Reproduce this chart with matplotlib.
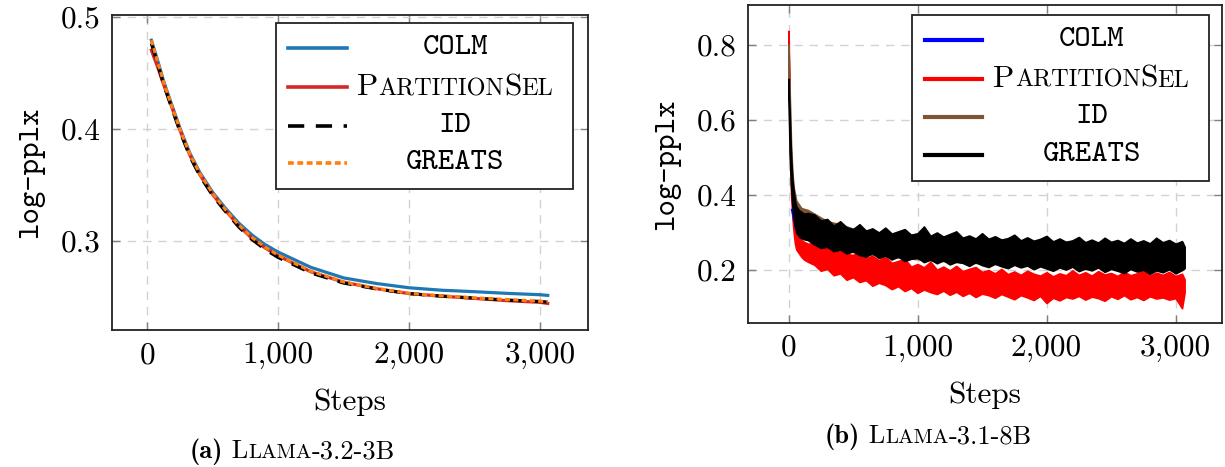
import matplotlib
matplotlib.use("Agg")
import matplotlib.pyplot as plt
from matplotlib.lines import Line2D
from matplotlib.patches import Rectangle
from matplotlib.offsetbox import TextArea, HPacker, AnnotationBbox

plt.rcParams['axes.unicode_minus'] = False

W, H = 1225, 467
FS = 22.5
SC = 17.5  # small caps size

# ---------------- data, panel (a) Llama-3.2-3B
steps_a = [30, 75, 125, 175, 250, 325, 400, 500, 600, 700, 800, 900, 1000,
           1250, 1500, 1750, 2000, 2250, 2500, 2750, 3000, 3060]
colm_a = [0.479, 0.462, 0.442, 0.425, 0.400, 0.378, 0.361, 0.343, 0.3285, 0.3155, 0.3050,
          0.2965, 0.2898, 0.2762, 0.2668, 0.2618, 0.2580, 0.2558, 0.2545, 0.2530, 0.2518, 0.2512]
part_a = [0.470, 0.456, 0.439, 0.423, 0.398, 0.376, 0.359, 0.341, 0.3265, 0.3130, 0.3020,
          0.2935, 0.2865, 0.2722, 0.2630, 0.2572, 0.2528, 0.2505, 0.2485, 0.2465, 0.2450, 0.2440]
id_a = [0.476, 0.459, 0.439, 0.422, 0.397, 0.375, 0.358, 0.340, 0.3255, 0.3120, 0.3010,
        0.2922, 0.2850, 0.2712, 0.2622, 0.2570, 0.2528, 0.2505, 0.2488, 0.2470, 0.2458, 0.2452]
greats_a = [0.479, 0.461, 0.441, 0.424, 0.399, 0.377, 0.360, 0.342, 0.3272, 0.3138, 0.3028,
            0.2942, 0.2870, 0.2727, 0.2632, 0.2575, 0.2530, 0.2508, 0.2490, 0.2475, 0.2460, 0.2455]

# ---------------- data, panel (b) Llama-3.1-8B (noisy curves as low/high envelopes)
steps_b = [0, 10, 20, 30, 40, 50, 60, 80, 100, 120, 150] + list(range(200, 3051, 50)) + [3070]
part_hi = [0.838, 0.62, 0.47, 0.40, 0.36, 0.33, 0.31, 0.29, 0.28, 0.275, 0.27,
           0.272, 0.262, 0.266, 0.252, 0.258, 0.243, 0.240, 0.250, 0.232, 0.238,
           0.226, 0.236, 0.219, 0.224, 0.230, 0.209, 0.216, 0.207, 0.222, 0.201,
           0.209, 0.199, 0.211, 0.197, 0.203, 0.208, 0.195, 0.200, 0.191, 0.203,
           0.189, 0.196, 0.187, 0.198, 0.190, 0.185, 0.194, 0.183, 0.191, 0.186,
           0.199, 0.187, 0.194, 0.185, 0.197, 0.188, 0.192, 0.184, 0.196, 0.186,
           0.191, 0.199, 0.185, 0.193, 0.187, 0.195, 0.184, 0.190,
           0.175]
part_lo = [0.79, 0.55, 0.40, 0.34, 0.30, 0.27, 0.255, 0.245, 0.235, 0.228, 0.222,
           0.214, 0.198, 0.203, 0.186, 0.191, 0.174, 0.181, 0.168, 0.173, 0.158,
           0.166, 0.160, 0.149, 0.157, 0.144, 0.152, 0.139, 0.148, 0.141, 0.136,
           0.145, 0.134, 0.142, 0.131, 0.139, 0.128, 0.137, 0.133, 0.126, 0.136,
           0.129, 0.122, 0.133, 0.127, 0.120, 0.131, 0.112, 0.126, 0.119, 0.128,
           0.124, 0.131, 0.121, 0.129, 0.125, 0.118, 0.130, 0.123, 0.133, 0.122,
           0.128, 0.120, 0.130, 0.124, 0.127, 0.121, 0.125, 0.098,
           0.140]
greats_hi = [0.71, 0.60, 0.50, 0.44, 0.41, 0.385, 0.37, 0.36, 0.355, 0.35, 0.352,
             0.348, 0.332, 0.336, 0.318, 0.330, 0.314, 0.309, 0.322, 0.305, 0.311,
             0.300, 0.313, 0.297, 0.303, 0.309, 0.294, 0.298, 0.316, 0.291, 0.300,
             0.289, 0.296, 0.303, 0.286, 0.292, 0.284, 0.298, 0.283, 0.290, 0.281,
             0.285, 0.294, 0.279, 0.287, 0.278, 0.283, 0.291, 0.276, 0.284, 0.275,
             0.279, 0.288, 0.274, 0.281, 0.273, 0.286, 0.275, 0.280, 0.272, 0.284,
             0.273, 0.279, 0.271, 0.286, 0.274, 0.280, 0.270, 0.277,
             0.262]
greats_lo = [0.66, 0.50, 0.42, 0.37, 0.34, 0.315, 0.30, 0.29, 0.285, 0.282, 0.28,
             0.268, 0.259, 0.262, 0.250, 0.255, 0.244, 0.250, 0.240, 0.236, 0.245,
             0.232, 0.239, 0.228, 0.236, 0.224, 0.230, 0.233, 0.221, 0.228, 0.218,
             0.226, 0.215, 0.222, 0.219, 0.211, 0.221, 0.213, 0.208, 0.217, 0.210,
             0.205, 0.214, 0.207, 0.212, 0.202, 0.210, 0.204, 0.198, 0.207, 0.201,
             0.209, 0.197, 0.204, 0.199, 0.207, 0.195, 0.203, 0.198, 0.192, 0.203,
             0.196, 0.201, 0.190, 0.199, 0.194, 0.202, 0.191, 0.200,
             0.205]
steps_id_b = [0, 10, 20, 30, 40, 60, 100, 150, 200] + list(range(300, 3001, 100)) + [3070]
id_hi = [0.80, 0.66, 0.53, 0.46, 0.42, 0.385, 0.365, 0.36, 0.350,
         0.330, 0.322, 0.310, 0.304, 0.300, 0.296, 0.296, 0.293, 0.290, 0.287,
         0.288, 0.284, 0.283, 0.282, 0.280, 0.278, 0.277, 0.278, 0.276, 0.275,
         0.274, 0.274, 0.273, 0.272, 0.272, 0.271, 0.271, 0.270,
         0.262]
id_lo = [0.70, 0.52, 0.43, 0.38, 0.35, 0.31, 0.295, 0.29, 0.28,
         0.265, 0.255, 0.248, 0.243, 0.239, 0.235, 0.232, 0.229, 0.226, 0.224,
         0.222, 0.220, 0.218, 0.216, 0.215, 0.214, 0.212, 0.211, 0.210, 0.209,
         0.208, 0.207, 0.206, 0.205, 0.204, 0.204, 0.203, 0.203,
         0.207]
steps_colm_b = [30, 60, 100, 150, 200, 400, 600, 800, 1000, 1500, 2000, 2500, 3000, 3070]
colm_b = [0.36, 0.31, 0.30, 0.295, 0.285, 0.265, 0.252, 0.242, 0.234, 0.225,
          0.218, 0.214, 0.212, 0.212]

xticks = [0, 1000, 2000, 3000]
xticklabels = ['0', '1,000', '2,000', '3,000']
yticks_a = [0.3, 0.4, 0.5]
yticks_b = [0.2, 0.4, 0.6, 0.8]

fig = plt.figure(figsize=(W / 100, H / 100), dpi=100)


def rect(x0, y0, x1, y1):
    return [x0 / W, 1 - y1 / H, (x1 - x0) / W, (y1 - y0) / H]


def style(ax, yticks, xlim, ylim):
    ax.set_xlim(*xlim)
    ax.set_ylim(*ylim)
    ax.set_xticks(xticks, labels=xticklabels, fontfamily='cmr10', fontsize=FS)
    ax.set_yticks(yticks, labels=[f'{v:.1f}' for v in yticks], fontfamily='cmr10', fontsize=FS)
    ax.tick_params(direction='in', length=6, width=1, color='#808080',
                   top=True, right=True, pad=8)
    ax.set_axisbelow(True)
    ax.grid(True, color='#d2d2d2', linestyle=(0, (6, 5)), linewidth=1)
    for s in ax.spines.values():
        s.set_linewidth(1.3)
        s.set_color('#222222')
    ax.set_xlabel('Steps', fontfamily='cmr10', fontsize=FS, labelpad=14)
    ax.set_ylabel('log-pplx', fontfamily='cmtt10', fontsize=FS, labelpad=12)


def smallcaps(parts, bold_prefix=None, size=FS, small=SC):
    boxes = []
    if bold_prefix:
        boxes.append(TextArea(bold_prefix, textprops=dict(fontfamily='cmb10', fontsize=size)))
    for txt, is_small in parts:
        boxes.append(TextArea(txt, textprops=dict(fontfamily='cmr10',
                                                  fontsize=small if is_small else size)))
    return HPacker(children=boxes, align='baseline', pad=0, sep=0)


def place(box, x, y):
    ab = AnnotationBbox(box, (x / W, 1 - y / H), xycoords='figure fraction',
                        box_alignment=(0.5, 0.5), frameon=False, pad=0)
    ab.set_zorder(12)
    fig.add_artist(ab)


def legend(box, hx, tx, rows, entries):
    x0, y0, x1, y1 = box
    fig.add_artist(Rectangle((x0 / W, 1 - y1 / H), (x1 - x0) / W, (y1 - y0) / H,
                             transform=fig.transFigure, facecolor='white',
                             edgecolor='#222222', linewidth=1.3, zorder=10))
    for y, (label, kw) in zip(rows, entries):
        fig.add_artist(Line2D([hx[0] / W, hx[1] / W], [1 - y / H, 1 - y / H],
                              transform=fig.transFigure, zorder=11, **kw))
        if label == 'PartitionSel':
            place(smallcaps([('P', False), ('ARTITION', True), ('S', False), ('EL', True)]), tx, y)
        else:
            fig.text(tx / W, 1 - y / H, label, ha='center', va='center',
                     fontfamily='cmtt10', fontsize=FS, zorder=12)


# ---------------- panel (a)
ax1 = fig.add_axes(rect(112, 15, 588, 330))
c_blue, c_red, c_orange = '#1f77b4', '#d62728', '#ff7f0e'
ax1.plot(steps_a, colm_a, color=c_blue, lw=2.3)
ax1.plot(steps_a, part_a, color=c_red, lw=2.3)
ax1.plot(steps_a, id_a, color='black', lw=2.3, linestyle=(0, (4.5, 3.2)))
ax1.plot(steps_a, greats_a, color=c_orange, lw=2.3, linestyle=(0, (1.6, 1.0)))
style(ax1, yticks_a, (-271, 3368), (0.2203, 0.5015))

legend((276, 22.7, 573, 189), (288, 347), 455, [48.3, 87.3, 125.7, 163.3],
       [('COLM', dict(color=c_blue, lw=2.6)),
        ('PartitionSel', dict(color=c_red, lw=2.6)),
        ('ID', dict(color='black', lw=2.6, linestyle=(0, (4.5, 3.2)))),
        ('GREATS', dict(color=c_orange, lw=2.6, linestyle=(0, (1.6, 1.0))))])

# ---------------- panel (b)
ax2 = fig.add_axes(rect(748, 5, 1222, 322.7))
c_brown = '#7d5534'
ax2.fill_between(steps_b, part_lo, part_hi, color='#ff0000', lw=1.2, zorder=2)
ax2.plot(steps_colm_b, colm_b, color='#0000ff', lw=2, zorder=2.5)
ax2.fill_between(steps_id_b, id_lo, id_hi, color=c_brown, lw=1.2, zorder=3)
ax2.fill_between(steps_b, greats_lo, greats_hi, color='black', lw=1.2, zorder=4)
style(ax2, yticks_b, (-314, 3360), (0.0595, 0.9067))

legend((912, 15, 1209, 181), (925, 982), 1091.5, [40, 79, 117.3, 155],
       [('COLM', dict(color='#0000ff', lw=3)),
        ('PartitionSel', dict(color='#ff0000', lw=3)),
        ('ID', dict(color=c_brown, lw=3)),
        ('GREATS', dict(color='black', lw=3))])

# ---------------- captions
place(smallcaps([(' L', False), ('LAMA', True), ('-3.2-3B', False)], bold_prefix='(a)',
                size=19, small=15), 292, 452)
place(smallcaps([(' L', False), ('LAMA', True), ('-3.1-8B', False)], bold_prefix='(b)',
                size=19, small=15), 928, 437)

fig.savefig('out.png', dpi=100)
